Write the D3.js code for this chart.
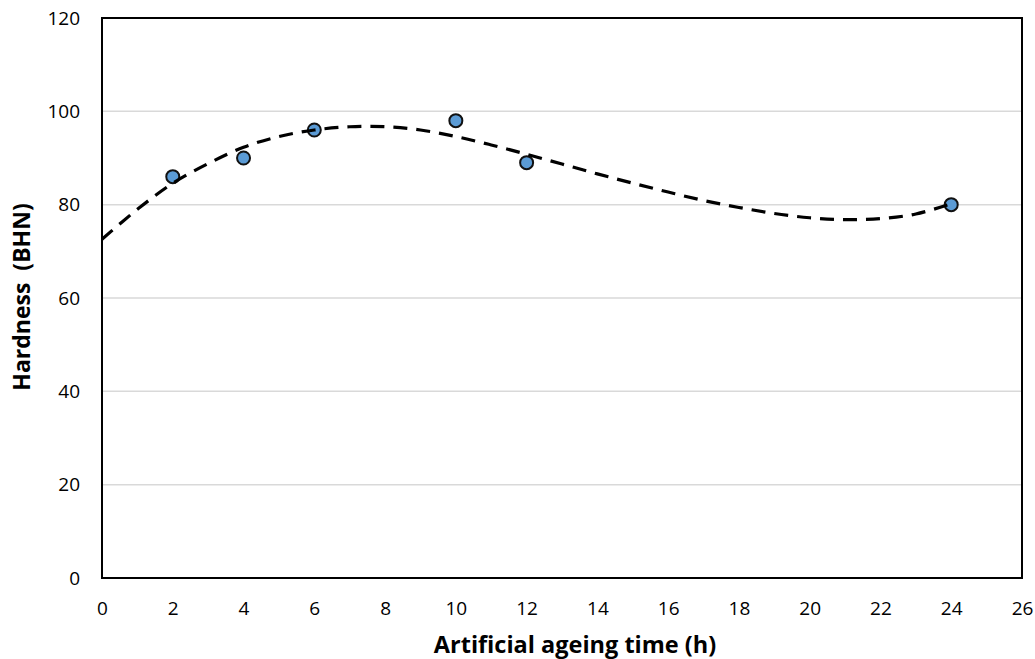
<!DOCTYPE html>
<html><head><meta charset="utf-8">
<script src="https://cdn.jsdelivr.net/npm/d3@7"></script>
<style>body{margin:0;background:#fff}svg{display:block}</style>
</head><body>
<svg id="c" width="1035" height="659"></svg>
<script>
// Measured hardness points
const ageingTime = [2, 4, 6, 10, 12, 24];
const hardness = [86, 90, 96, 98, 89, 80];
// Polynomial trendline
const trendX = [0,1,2,3,4,5,6,7,8,9,10,11,12,13,14,15,16,17,18,19,20,21,22,23,24];
const trendY = [72.6,79.0,84.6,88.8,92.3,94.6,96.0,96.7,96.7,96.0,94.6,92.8,90.8,88.7,86.6,84.6,82.7,80.9,79.4,78.1,77.2,76.8,77.0,78.0,80.2];
const xTicks = [0,2,4,6,8,10,12,14,16,18,20,22,24,26];
const yTicks = [0,20,40,60,80,100,120];

const font = "'Open Sans', sans-serif";
const svg = d3.select("#c");
const L = 102, R = 1022, T = 18, B = 578;
const x = d3.scaleLinear().domain([0,26]).range([L,R]);
const y = d3.scaleLinear().domain([0,120]).range([B,T]);

// gridlines
svg.append("g").selectAll("line").data(yTicks.filter(d=>d>0 && d<120)).join("line")
  .attr("x1",L).attr("x2",R).attr("y1",d=>y(d)).attr("y2",d=>y(d))
  .attr("stroke","#d9d9d9").attr("stroke-width",1.5);

// axes (labels only)
const xa = svg.append("g").attr("transform",`translate(0,${B})`)
  .call(d3.axisBottom(x).tickValues(xTicks).tickSize(0).tickPadding(24));
const ya = svg.append("g").attr("transform",`translate(${L},0)`)
  .call(d3.axisLeft(y).tickValues(yTicks).tickSize(0).tickPadding(22));
[xa,ya].forEach(a=>{a.select(".domain").remove();
  a.selectAll("text").attr("font-family",font).attr("font-size",19).attr("fill","#000");});

// plot border
svg.append("rect").attr("x",L).attr("y",T).attr("width",R-L).attr("height",B-T)
  .attr("fill","none").attr("stroke","#000").attr("stroke-width",2);

// markers
svg.append("g").selectAll("circle").data(ageingTime.map((d,i)=>[d,hardness[i]])).join("circle")
  .attr("cx",d=>x(d[0])).attr("cy",d=>y(d[1])).attr("r",6.5)
  .attr("fill","#5b9bd5").attr("stroke","#111").attr("stroke-width",2);

// trendline
svg.append("path").datum(trendX.map((d,i)=>[d,trendY[i]]))
  .attr("d", d3.line().x(d=>x(d[0])).y(d=>y(d[1])).curve(d3.curveCatmullRom))
  .attr("fill","none").attr("stroke","#000").attr("stroke-width",3.2)
  .attr("stroke-dasharray","14,9");

// titles
svg.append("text").attr("x",575).attr("y",653).attr("text-anchor","middle")
  .attr("font-family",font).attr("font-size",23.5).attr("font-weight","bold").text("Artificial ageing time (h)");
svg.append("text").attr("transform",`translate(30,297) rotate(-90)`).attr("text-anchor","middle")
  .attr("font-family",font).attr("font-size",23).attr("font-weight","bold").attr("xml:space","preserve").text("Hardness  (BHN)");
</script>
</body></html>
